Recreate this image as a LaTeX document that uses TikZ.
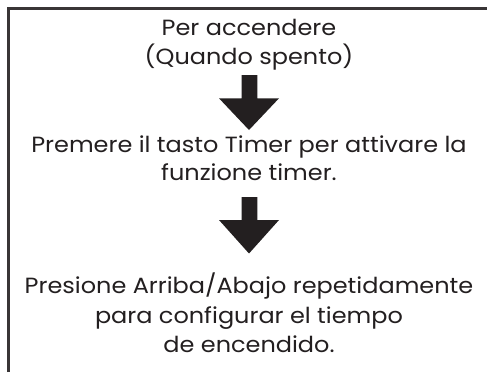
\documentclass[tikz,border=0pt]{standalone}
\usepackage{fontspec}
\setmainfont[FakeStretch=1.09]{Poppins}
\definecolor{ink}{HTML}{231F20}
\begin{document}
\begin{tikzpicture}[x=1pt,y=-1pt,
  txt/.style={text=ink,font=\fontsize{22}{29}\selectfont,align=center,inner sep=0pt,anchor=base},
  arr/.style={fill=ink,draw=none}]
\useasboundingbox (0,0) rectangle (487,372);
\fill[white] (0,0) rectangle (487,372);
\draw[ink!90,line width=2.4pt] (8.5,372) -- (8.5,8.5) -- (487,8.5);
\node[txt] (t1) at (249,35) {Per accendere};
\node[txt] (t2) at (249,64) {(Quando spento)};
\fill[arr] (241.7,75) -- (257.3,75) -- (257.3,98.3) -- (279,98.3) -- (249,130) -- (219,98.3) -- (241.7,98.3) -- cycle;
\node[txt] (t3) at (249,152) {Premere il tasto Timer per attivare la};
\node[txt] (t4) at (249,180) {funzione timer.};
\fill[arr] (241.7,197) -- (257.3,197) -- (257.3,220) -- (279,220) -- (249,253.5) -- (219,220) -- (241.7,220) -- cycle;
\node[txt] (t5) at (249,293) {Presione Arriba/Abajo repetidamente};
\node[txt] (t6) at (249,323) {para configurar el tiempo};
\node[txt] (t7) at (249,352) {de encendido.};
\end{tikzpicture}
\end{document}
